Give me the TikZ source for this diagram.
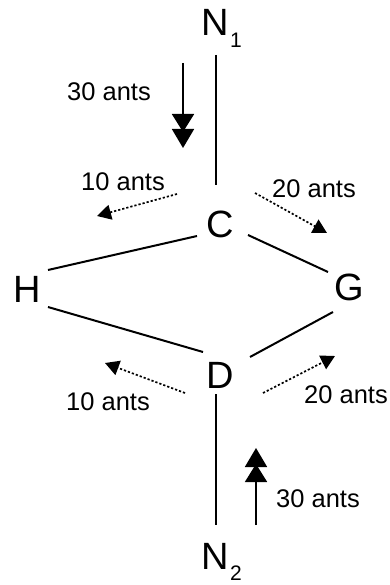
\documentclass[tikz,border=0pt]{standalone}
\usepackage{fontspec}
\setmainfont{Liberation Sans}
\usetikzlibrary{arrows.meta}
\begin{document}
\begin{tikzpicture}[x=1pt,y=-1pt,
  vertex/.style={font=\fontsize{38}{38}\selectfont, anchor=base, inner sep=0pt},
  subidx/.style={font=\fontsize{21}{21}\selectfont, anchor=base, inner sep=0pt},
  count/.style={font=\fontsize{25.5}{25.5}\selectfont, anchor=base, inner sep=0pt},
  edge/.style={line width=2pt},
  flow/.style={line width=1.8pt,
    -{Triangle[length=18pt,width=22pt,sep=-3pt]Triangle[length=19pt,width=22pt]}},
  split/.style={line width=1.7pt, dash pattern=on 2.2pt off 2pt,
    -{Triangle[length=14pt,width=15pt]}}]
\useasboundingbox (0,0) rectangle (390,585);

% vertices
\node[vertex] (N1) at (215,36) {N};
\node[subidx] (i1) at (236,48) {1};
\node[vertex] (C) at (220,237) {C};
\node[vertex] (H) at (27,302) {H};
\node[vertex] (G) at (349,300) {G};
\node[vertex] (D) at (220,388) {D};
\node[vertex] (N2) at (215,569) {N};
\node[subidx] (i2) at (236,580) {2};

% edge end points
\coordinate (n1b) at (216,55);
\coordinate (ct) at (216,185);
\coordinate (chl) at (197,236);
\coordinate (hcr) at (48,270);
\coordinate (cgr) at (248,235);
\coordinate (gcl) at (328,272);
\coordinate (hdr) at (48,307);
\coordinate (dhl) at (203,352);
\coordinate (dgr) at (250,357);
\coordinate (gdl) at (333,312);
\coordinate (db) at (216,394);
\coordinate (n2t) at (216,525);

\draw[edge] (n1b) -- (ct);
\draw[edge] (chl) -- (hcr);
\draw[edge] (cgr) -- (gcl);
\draw[edge] (hdr) -- (dhl);
\draw[edge] (dgr) -- (gdl);
\draw[edge] (db) -- (n2t);

% ant flows
\coordinate (inTop) at (183,63);
\coordinate (inTopTip) at (183,148);
\coordinate (inBot) at (256,525);
\coordinate (inBotTip) at (256,448);
\draw[flow] (inTop) -- (inTopTip);
\draw[flow] (inBot) -- (inBotTip);

\coordinate (s1) at (177,194);
\coordinate (t1) at (97,216);
\coordinate (s2) at (255,193);
\coordinate (t2) at (327,233);
\coordinate (s3) at (185,393);
\coordinate (t3) at (105,363);
\coordinate (s4) at (263,393);
\coordinate (t4) at (335,356);
\draw[split] (s1) -- (t1);
\draw[split] (s2) -- (t2);
\draw[split] (s3) -- (t3);
\draw[split] (s4) -- (t4);

% labels
\node[count] (l1) at (109,101) {30 ants};
\node[count] (l2) at (123,190) {10 ants};
\node[count] (l3) at (314,197) {20 ants};
\node[count] (l4) at (108,410) {10 ants};
\node[count] (l5) at (346,403) {20 ants};
\node[count] (l6) at (318,507) {30 ants};
\end{tikzpicture}
\end{document}
